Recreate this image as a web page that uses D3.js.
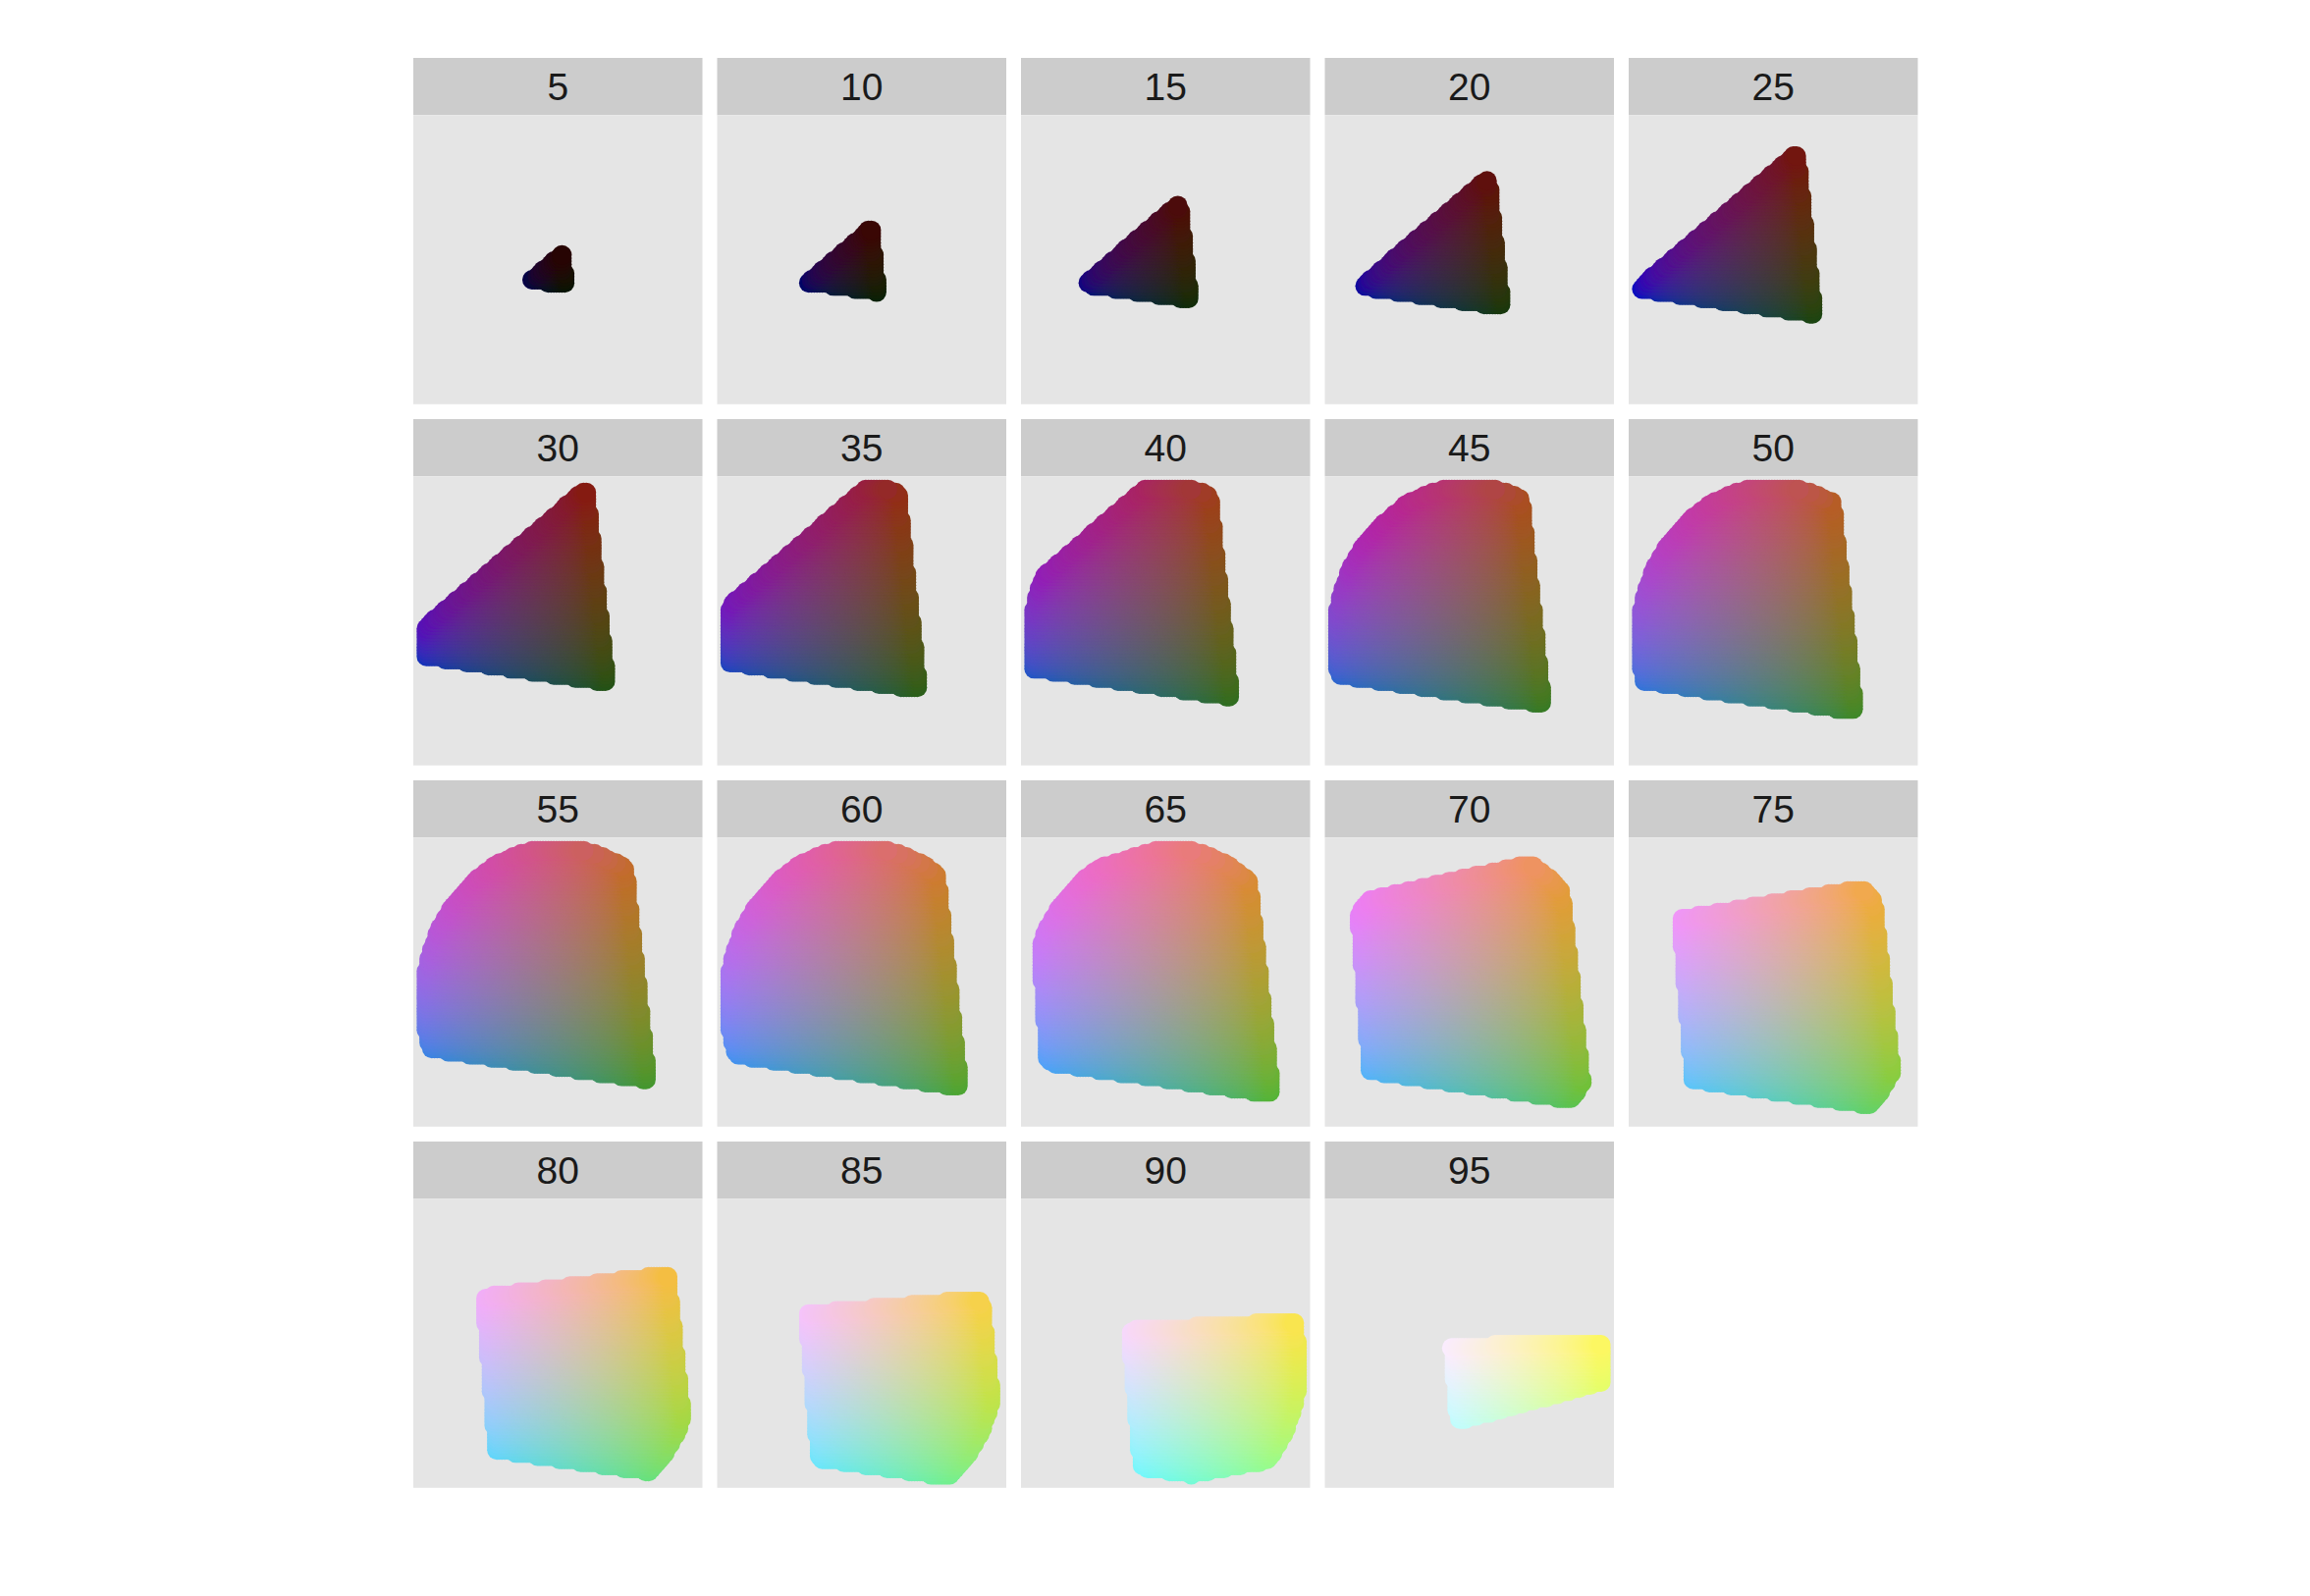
<!DOCTYPE html>
<html>
<head>
<meta charset="utf-8">
<script src="https://cdn.jsdelivr.net/npm/d3@7"></script>
<style>
  body { margin: 0; background: #ffffff; }
  svg { display: block; }
  .strip-text { font-family: "Liberation Sans", Arial, sans-serif; fill: #1a1a1a; }
</style>
</head>
<body>
<div id="chart"></div>
<script>
// Luminance of each slice (one facet per value)
var luminance = [5, 10, 15, 20, 25, 30, 35, 40, 45, 50, 55, 60, 65, 70, 75, 80, 85, 90, 95];

// Grid over the hue/chroma plane: 100 steps from -1 to 1, scaled to chroma 100
var gridSteps = 100;
var chromaMax = 100;
var gridSeq = d3.range(gridSteps).map(function(i) { return -1 + 2 * i / (gridSteps - 1); });

// Page layout
var width = 2353;
var height = 1626;
var nCol = 5;
var panelSize = 294.5;
var panelGap = 15;
var stripH = 58.3;
var rowStep = 368;
var marginLeft = 421;
var marginTop = 59;
var ptRadius = 10;

// polarLUV -> linear sRGB, the same way R's hcl() does it (no fixup)
var WHITE_u = 0.1978398;
var WHITE_v = 0.4683363;
function gtrans(u) {
  return u > 0.00304 ? 1.055 * Math.pow(u, 1 / 2.4) - 0.055 : 12.92 * u;
}
function luvToLinear(L, U, V) {
  var Y = L > 7.999592 ? Math.pow((L + 16) / 116, 3) : L / 903.3;
  var u = U / (13 * L) + WHITE_u;
  var v = V / (13 * L) + WHITE_v;
  var X = 9.0 * Y * u / (4 * v);
  var Z = -X / 3 - 5 * Y + 3 * Y / v;
  return [
     3.240479 * X - 1.537150 * Y - 0.498535 * Z,
    -0.969256 * X + 1.875992 * Y + 0.041556 * Z,
     0.055648 * X - 0.204043 * Y + 1.057311 * Z
  ];
}
// the picture was saved through a wide-gamut (P3-like) display profile,
// which makes the stored sRGB values look a little muted
function displayColour(lin) {
  var p = [
    0.8225 * lin[0] + 0.1774 * lin[1],
    0.0332 * lin[0] + 0.9669 * lin[1],
    0.0171 * lin[0] + 0.0724 * lin[1] + 0.9108 * lin[2]
  ];
  return d3.rgb.apply(null, p.map(function(k) {
    return Math.round(255 * Math.min(1, Math.max(0, gtrans(k))));
  })).formatHex();
}

// Build the points: keep the ones inside the chroma circle and inside sRGB
var points = [];
luminance.forEach(function(l) {
  gridSeq.forEach(function(gy) {
    gridSeq.forEach(function(gx) {
      if (gx * gx + gy * gy >= 1) return;
      var U = chromaMax * gy;   // vertical: u
      var V = chromaMax * gx;   // horizontal: v
      var lin = luvToLinear(l, U, V);
      var ok = lin.every(function(k) { var g = gtrans(k); return g >= 0 && g <= 1; });
      if (!ok) return;
      points.push({ l: l, u: U, v: V, colour: displayColour(lin) });
    });
  });
});

// Shared scales with ggplot's 5% expansion
function expand(ext) {
  var d = (ext[1] - ext[0]) * 0.05;
  return [ext[0] - d, ext[1] + d];
}
var xScale = d3.scaleLinear()
  .domain(expand(d3.extent(points, function(d) { return d.v; })))
  .range([0, panelSize]);
var yScale = d3.scaleLinear()
  .domain(expand(d3.extent(points, function(d) { return d.u; })))
  .range([panelSize, 0]);

var svg = d3.select("#chart")
  .append("svg")
  .attr("width", width)
  .attr("height", height);

svg.append("rect")
  .attr("width", width)
  .attr("height", height)
  .attr("fill", "#ffffff");

var byL = d3.group(points, function(d) { return d.l; });

luminance.forEach(function(l, i) {
  var col = i % nCol;
  var row = Math.floor(i / nCol);
  var gx0 = marginLeft + col * (panelSize + panelGap);
  var gy0 = marginTop + row * rowStep;

  var facet = svg.append("g")
    .attr("transform", "translate(" + gx0 + "," + gy0 + ")");

  // strip
  facet.append("rect")
    .attr("width", panelSize)
    .attr("height", stripH)
    .attr("fill", "#cccccc");
  facet.append("text")
    .attr("class", "strip-text")
    .attr("x", panelSize / 2)
    .attr("y", stripH / 2)
    .attr("dy", "0.36em")
    .attr("text-anchor", "middle")
    .attr("font-size", 39)
    .text(l);

  // panel
  var panel = facet.append("g")
    .attr("transform", "translate(0," + stripH + ")");
  var clipId = "clip" + i;
  panel.append("clipPath").attr("id", clipId)
    .append("rect").attr("width", panelSize).attr("height", panelSize);
  panel.append("rect")
    .attr("width", panelSize)
    .attr("height", panelSize)
    .attr("fill", "#e5e5e5");

  panel.append("g")
    .attr("clip-path", "url(#" + clipId + ")")
    .selectAll("circle")
    .data(byL.get(l) || [])
    .enter()
    .append("circle")
    .attr("cx", function(d) { return xScale(d.v); })
    .attr("cy", function(d) { return yScale(d.u); })
    .attr("r", ptRadius)
    .attr("fill", function(d) { return d.colour; });
});
</script>
</body>
</html>
